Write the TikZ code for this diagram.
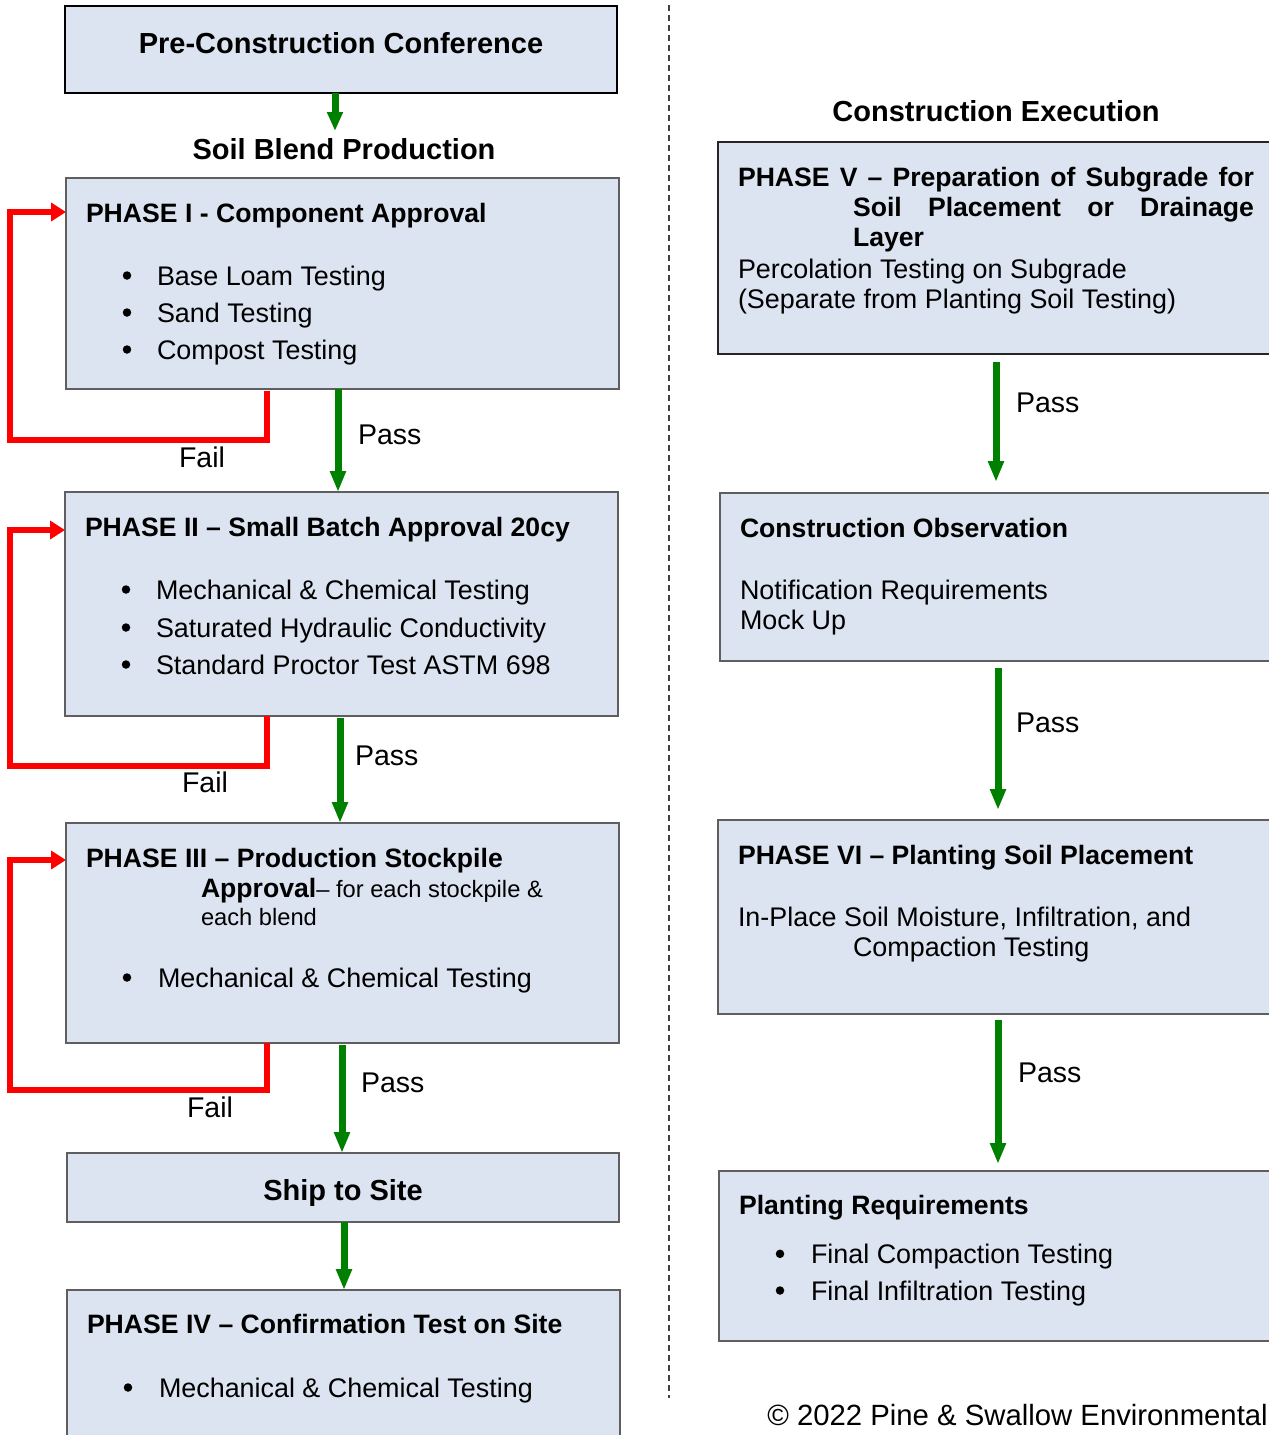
\documentclass[tikz,border=0pt]{standalone}
\usepackage{fontspec}
\setmainfont{Liberation Sans}
\usetikzlibrary{arrows.meta}
\definecolor{boxfill}{RGB}{219,228,240}
\definecolor{boxline}{RGB}{95,95,95}
\definecolor{passgreen}{RGB}{0,128,0}
\definecolor{failred}{RGB}{255,0,0}
\newcommand\fbody{\fontsize{26.9}{30}\selectfont}
\newcommand\fttl{\fontsize{26.6}{30}\selectfont\bfseries}
\newcommand\fhead{\fontsize{29}{33}\selectfont\bfseries}
\newcommand\fsmall{\fontsize{23.7}{27}\selectfont}
\newcommand\fpf{\fontsize{28.5}{32}\selectfont}
\begin{document}
\begin{tikzpicture}[x=1pt,y=-1pt,
  box/.style={draw=boxline, line width=1.5pt, fill=boxfill, rectangle, inner sep=0pt, outer sep=0pt, anchor=north west},
  txt/.style={anchor=base west, inner sep=0pt, outer sep=0pt, font=\fbody},
  ttl/.style={anchor=base west, inner sep=0pt, outer sep=0pt, font=\fttl},
  bul/.style={circle, fill=black, inner sep=0pt, outer sep=0pt, minimum size=8.5pt, yshift=9.5pt},
  hd/.style={anchor=base, inner sep=0pt, outer sep=0pt, font=\fhead},
  lbl/.style={anchor=base west, inner sep=0pt, outer sep=0pt, font=\fpf},
  garrow/.style={draw=passgreen, line width=7pt, -{Triangle[length=21pt,width=15pt]}},
  rarrow/.style={draw=failred, line width=5.5pt, -{Triangle[length=15pt,width=18pt]}},
  ]
\useasboundingbox (0,0) rectangle (1269,1435);
\clip (0,0) rectangle (1269,1435);

% dashed separator
\coordinate (sepTop) at (669,5);
\coordinate (sepBot) at (669,1398);
\draw[draw=black!75, line width=1.6pt, dash pattern=on 5.7pt off 4.3pt] (sepTop) -- (sepBot);

% ---------------- left column ----------------
\node[box, draw=black, line width=2pt, minimum width=552pt, minimum height=87pt] (pre) at (65,6) {};
\node[hd] (preT) at (341,53.3) {Pre-Construction Conference};
\node[hd] (soil) at (344,159.3) {Soil Blend Production};
\coordinate (soilTop) at (335,131);
\draw[garrow, -{Triangle[length=19pt,width=15pt]}] (pre.south -| soilTop) -- (soilTop);

% Phase I
\node[box, minimum width=553pt, minimum height=211pt] (p1) at (66,178) {};
\node[ttl] (p1t) at (86,222) {PHASE I - Component Approval};
\node[bul] (p1b1) at (127,285) {};
\node[txt] (p1l1) at (157,285) {Base Loam Testing};
\node[bul] (p1b2) at (127,322) {};
\node[txt] (p1l2) at (157,322) {Sand Testing};
\node[bul] (p1b3) at (127,359) {};
\node[txt] (p1l3) at (157,359) {Compost Testing};

% Phase II
\node[box, minimum width=553pt, minimum height=224pt] (p2) at (65,492) {};
\node[ttl] (p2t) at (85,536) {PHASE II – Small Batch Approval 20cy};
\node[bul] (p2b1) at (126,599) {};
\node[txt] (p2l1) at (156,599) {Mechanical \& Chemical Testing};
\node[bul] (p2b2) at (126,637) {};
\node[txt] (p2l2) at (156,637) {Saturated Hydraulic Conductivity};
\node[bul] (p2b3) at (126,674) {};
\node[txt] (p2l3) at (156,674) {Standard Proctor Test ASTM 698};

% Phase III
\node[box, minimum width=553pt, minimum height=220pt] (p3) at (66,823) {};
\node[ttl] (p3t) at (86,867) {PHASE III – Production Stockpile};
\node[txt] (p3t2) at (201,897.3) {{\fttl Approval}{\fsmall – for each stockpile \&}};
\node[txt, font=\fsmall] (p3t3) at (201,925) {each blend};
\node[bul] (p3b1) at (127,987) {};
\node[txt] (p3l1) at (158,987) {Mechanical \& Chemical Testing};

% Ship to site
\node[box, minimum width=552pt, minimum height=69pt] (ship) at (67,1153) {};
\node[hd] (shipT) at (343,1200) {Ship to Site};

% Phase IV
\node[box, minimum width=553pt, minimum height=175pt] (p4) at (67,1290) {};
\node[ttl] (p4t) at (87,1333.3) {PHASE IV – Confirmation Test on Site};
\node[bul] (p4b1) at (128,1397) {};
\node[txt] (p4l1) at (159,1397) {Mechanical \& Chemical Testing};

% pass arrows left
\draw[garrow] ([xshift=-4.5pt]p1.south) -- ([xshift=-3.5pt]p2.north);
\draw[garrow] ([xshift=-1.5pt,yshift=-2pt]p2.south) -- ([xshift=-2.5pt]p3.north);
\draw[garrow] ([xshift=-0.5pt,yshift=-2pt]p3.south) -- ([xshift=-1pt]ship.north);
\draw[garrow] ([xshift=1pt]ship.south) -- ([xshift=0.5pt]p4.north);
\node[lbl] (pass1) at (358,444) {Pass};
\node[lbl] (pass2) at (355,765) {Pass};
\node[lbl] (pass3) at (361,1092) {Pass};

% fail loops
\coordinate (f1) at (10,440);
\coordinate (f2) at (10,766);
\coordinate (f3) at (10,1090);
\draw[rarrow] ([xshift=-75.5pt,yshift=-2pt]p1.south) |- (f1) |- ([yshift=-34pt]p1.north west);
\draw[rarrow] ([xshift=-74.5pt]p2.south) |- (f2) |- ([yshift=-38pt]p2.north west);
\draw[rarrow] ([xshift=-75.5pt]p3.south) |- (f3) |- ([yshift=-37pt]p3.north west);
\node[lbl] (fail1) at (179,467) {Fail};
\node[lbl] (fail2) at (182,792) {Fail};
\node[lbl] (fail3) at (187,1117) {Fail};

% ---------------- right column ----------------
\node[hd] (ceT) at (996,121.7) {Construction Execution};

\node[box, draw=black!85, minimum width=572pt, minimum height=212pt] (p5) at (718,142) {};
\node[ttl] (p5t1) at (738,186.7) {\makebox[516pt][s]{PHASE V – Preparation of Subgrade for}};
\node[ttl] (p5t2) at (853,216.7) {\makebox[401pt][s]{Soil Placement or Drainage}};
\node[ttl] (p5t3) at (853,246.7) {Layer};
\node[txt] (p5l1) at (738,278.3) {Percolation Testing on Subgrade};
\node[txt] (p5l2) at (738,308.3) {(Separate from Planting Soil Testing)};

\node[box, minimum width=570pt, minimum height=168pt] (obs) at (720,493) {};
\node[ttl] (obst) at (740,537) {Construction Observation};
\node[txt] (obsl1) at (740,599) {Notification Requirements};
\node[txt] (obsl2) at (740,629) {Mock Up};

\node[box, minimum width=572pt, minimum height=194pt] (p6) at (718,820) {};
\node[ttl] (p6t) at (738,864) {PHASE VI – Planting Soil Placement};
\node[txt] (p6l1) at (738,926) {In-Place Soil Moisture, Infiltration, and};
\node[txt] (p6l2) at (853,956) {Compaction Testing};

\node[box, minimum width=571pt, minimum height=170pt] (pr) at (719,1171) {};
\node[ttl] (prt) at (739,1214.3) {Planting Requirements};
\node[bul] (prb1) at (780,1263.3) {};
\node[txt] (prl1) at (811,1263.3) {Final Compaction Testing};
\node[bul] (prb2) at (780,1300) {};
\node[txt] (prl2) at (811,1300) {Final Infiltration Testing};

% pass arrows right
\draw[garrow] ([xshift=-8pt,yshift=-8pt]p5.south) -- ([xshift=-9pt,yshift=11pt]obs.north);
\draw[garrow] ([xshift=-7pt,yshift=-7pt]obs.south) -- ([xshift=-6pt,yshift=10pt]p6.north);
\draw[garrow] ([xshift=-6pt,yshift=-6pt]p6.south) -- ([xshift=-6.5pt,yshift=7pt]pr.north);
\node[lbl] (pass4) at (1016,412) {Pass};
\node[lbl] (pass5) at (1016,732) {Pass};
\node[lbl] (pass6) at (1018,1082) {Pass};

\node[anchor=base east, inner sep=0pt, font=\fontsize{29.3}{33}\selectfont] (copy) at (1268,1425) {© 2022 Pine \& Swallow Environmental};
\end{tikzpicture}
\end{document}
